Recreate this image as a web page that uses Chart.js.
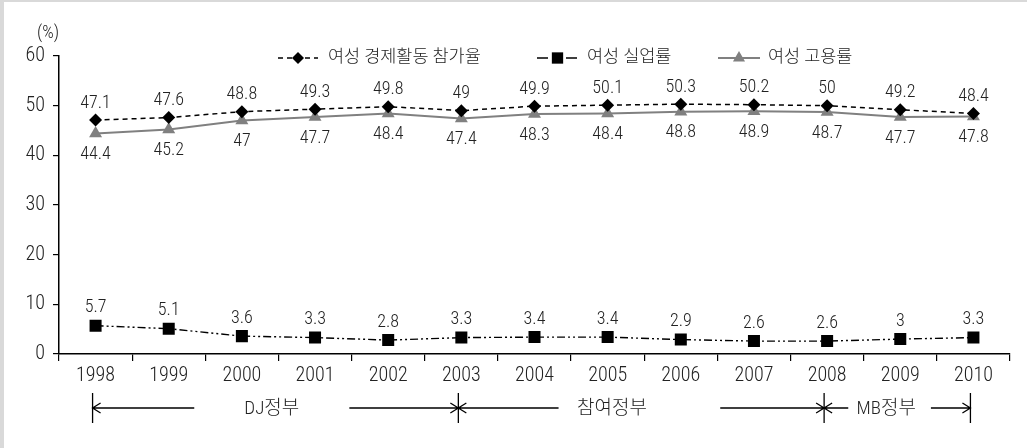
<!DOCTYPE html>
<html>
<head>
<meta charset="utf-8">
<script src="https://cdn.jsdelivr.net/npm/chart.js@4/dist/chart.umd.min.js"></script>
<style>
  html, body { margin: 0; padding: 0; background: #fff; }
  canvas { display: block; }
</style>
</head>
<body>
<canvas id="chart" width="1027" height="448"></canvas>
<script>
// Women's labour market indicators, 1998-2010 (%)
const years = ['1998', '1999', '2000', '2001', '2002', '2003', '2004', '2005', '2006', '2007', '2008', '2009', '2010'];
const participationRate = [47.1, 47.6, 48.8, 49.3, 49.8, 49, 49.9, 50.1, 50.3, 50.2, 50, 49.2, 48.4];
const unemploymentRate  = [5.7, 5.1, 3.6, 3.3, 2.8, 3.3, 3.4, 3.4, 2.9, 2.6, 2.6, 3, 3.3];
const employmentRate    = [44.4, 45.2, 47, 47.7, 48.4, 47.4, 48.3, 48.4, 48.8, 48.9, 48.7, 47.7, 47.8];
const yTicks = [0, 10, 20, 30, 40, 50, 60];
const seriesNames = ['여성 경제활동 참가율', '여성 실업률', '여성 고용률'];
const unitLabel = '(%)';

// Government terms, as first and last year index
const governments = ['DJ정부', '참여정부', 'MB정부'];
const governmentSpans = [[0, 5], [5, 10], [10, 12]];

const FONT = "'Roboto Condensed', 'Noto Sans CJK KR', sans-serif";
const TEXT = '#222';

// Layout of the term bar under the axis (in category index units)
const termLayout = [
  { lineEnd: 1.39, labelAt: 2.45, lineStart: 3.51 },
  { lineEnd: 6.37, labelAt: 7.1, lineStart: 8.58 },
  { lineEnd: 10.33, labelAt: 10.85, lineStart: 11.46 }
];

function drawMarker(ctx, style, x, y, r, color) {
  ctx.save();
  ctx.fillStyle = color;
  ctx.beginPath();
  if (style === 'rectRot') {
    ctx.moveTo(x, y - r); ctx.lineTo(x + r, y); ctx.lineTo(x, y + r); ctx.lineTo(x - r, y);
  } else if (style === 'rect') {
    const s = Math.SQRT1_2 * r;
    ctx.rect(x - s, y - s, 2 * s, 2 * s);
  } else if (style === 'triangle') {
    ctx.moveTo(x, y - r);
    ctx.lineTo(x + r * Math.sin(2 * Math.PI / 3), y - r * Math.cos(2 * Math.PI / 3));
    ctx.lineTo(x + r * Math.sin(4 * Math.PI / 3), y - r * Math.cos(4 * Math.PI / 3));
  }
  ctx.closePath();
  ctx.fill();
  ctx.restore();
}

const framePlugin = {
  id: 'frame',
  beforeDraw(chart) {
    const ctx = chart.ctx;
    ctx.save();
    ctx.fillStyle = '#fff';
    ctx.fillRect(0, 0, chart.width, chart.height);
    ctx.fillStyle = '#d9d9d9';
    ctx.fillRect(0, 0, 4, chart.height);
    ctx.fillRect(0, 0, chart.width, 2);
    ctx.restore();
  }
};

const valueLabelPlugin = {
  id: 'valueLabels',
  afterDatasetsDraw(chart) {
    const ctx = chart.ctx;
    ctx.save();
    ctx.font = '300 18px ' + FONT;
    ctx.fillStyle = TEXT;
    ctx.textAlign = 'center';
    ctx.textBaseline = 'middle';
    chart.data.datasets.forEach((ds, di) => {
      const meta = chart.getDatasetMeta(di);
      meta.data.forEach((pt, i) => {
        ctx.fillText(String(ds.data[i]), pt.x, pt.y + ds.labelOffset);
      });
    });
    ctx.restore();
  }
};

const legendPlugin = {
  id: 'lineLegend',
  afterDraw(chart) {
    const ctx = chart.ctx;
    const y = 58;
    const items = [
      { x: 278, len: 40, textX: 328 },
      { x: 537, len: 41, textX: 587 },
      { x: 718, len: 42, textX: 768 }
    ];
    ctx.save();
    chart.data.datasets.forEach((ds, i) => {
      const it = items[i];
      ctx.strokeStyle = ds.borderColor;
      ctx.lineWidth = ds.borderWidth;
      ctx.setLineDash(ds.legendDash || []);
      ctx.beginPath();
      ctx.moveTo(it.x, y);
      ctx.lineTo(it.x + it.len, y);
      ctx.stroke();
      ctx.setLineDash([]);
      drawMarker(ctx, ds.pointStyle, it.x + it.len / 2, y, ds.legendRadius, ds.pointBackgroundColor);
      ctx.font = '300 17.5px ' + FONT;
      ctx.fillStyle = TEXT;
      ctx.textAlign = 'left';
      ctx.textBaseline = 'middle';
      ctx.fillText(ds.label, it.textX, y);
    });
    ctx.font = '300 18px ' + FONT;
    ctx.textAlign = 'left';
    ctx.fillText(unitLabel, 37, 33);
    ctx.restore();
  }
};

const termPlugin = {
  id: 'terms',
  afterDraw(chart) {
    const ctx = chart.ctx;
    const xs = chart.scales.x;
    const px = v => xs.getPixelForValue(v) - 3;
    const y = 408, top = 393, bottom = 423, ah = 8, aw = 5;
    ctx.save();
    ctx.strokeStyle = '#000';
    ctx.lineWidth = 1.3;
    const bars = new Set();
    governmentSpans.forEach(s => { bars.add(s[0]); bars.add(s[1]); });
    bars.forEach(i => {
      ctx.beginPath();
      ctx.moveTo(px(i), top);
      ctx.lineTo(px(i), bottom);
      ctx.stroke();
    });
    ctx.font = '300 19px ' + FONT;
    ctx.fillStyle = TEXT;
    ctx.textAlign = 'center';
    ctx.textBaseline = 'middle';
    governmentSpans.forEach((s, k) => {
      const L = termLayout[k];
      const x0 = px(s[0]), x1 = px(s[1]);
      ctx.beginPath();
      ctx.moveTo(x0, y); ctx.lineTo(px(L.lineEnd), y);
      ctx.moveTo(px(L.lineStart), y); ctx.lineTo(x1, y);
      // open arrowheads at both ends
      ctx.moveTo(x0 + ah, y - aw); ctx.lineTo(x0, y); ctx.lineTo(x0 + ah, y + aw);
      ctx.moveTo(x1 - ah, y - aw); ctx.lineTo(x1, y); ctx.lineTo(x1 - ah, y + aw);
      ctx.stroke();
      ctx.fillText(governments[k], px(L.labelAt), y + 1);
    });
    ctx.restore();
  }
};

new Chart(document.getElementById('chart'), {
  type: 'line',
  data: {
    labels: years,
    datasets: [
      {
        label: seriesNames[0],
        data: participationRate,
        borderColor: '#000',
        borderWidth: 1.5,
        borderDash: [5, 4],
        legendDash: [5, 4],
        pointStyle: 'rectRot',
        pointRadius: 6.5,
        legendRadius: 6,
        pointBackgroundColor: '#000',
        pointBorderWidth: 0,
        labelOffset: -17
      },
      {
        label: seriesNames[1],
        data: unemploymentRate,
        borderColor: '#000',
        borderWidth: 1.4,
        borderDash: [8, 3, 2, 3, 2, 3],
        legendDash: [11, 18],
        pointStyle: 'rect',
        pointRadius: 8.5,
        legendRadius: 8,
        pointBackgroundColor: '#000',
        pointBorderWidth: 0,
        labelOffset: -18
      },
      {
        label: seriesNames[2],
        data: employmentRate,
        borderColor: '#808080',
        borderWidth: 2,
        pointStyle: 'triangle',
        pointRadius: 7.5,
        legendRadius: 7,
        pointBackgroundColor: '#808080',
        pointBorderWidth: 0,
        labelOffset: 21
      }
    ]
  },
  options: {
    responsive: false,
    animation: false,
    devicePixelRatio: 1,
    layout: { padding: { top: 56, right: 17, left: 0, bottom: 0 } },
    elements: { line: { tension: 0 } },
    plugins: { legend: { display: false }, tooltip: { enabled: false } },
    scales: {
      x: {
        offset: true,
        grid: { offset: true, drawOnChartArea: false, tickLength: 7, color: '#000', lineWidth: 1.2 },
        border: { color: '#000', width: 1.5 },
        ticks: { font: { family: FONT, size: 20, weight: '300' }, color: TEXT, padding: 3, maxRotation: 0, autoSkip: false },
        afterFit(s) { s.height = 94; }
      },
      y: {
        min: 0,
        max: 60,
        afterBuildTicks(s) { s.ticks = yTicks.map(v => ({ value: v })); },
        grid: { drawOnChartArea: false, tickLength: 6, color: '#000', lineWidth: 1.2 },
        border: { color: '#000', width: 1.5 },
        ticks: { font: { family: FONT, size: 20, weight: '300' }, color: TEXT, padding: 8 },
        afterFit(s) { s.width = 59; }
      }
    }
  },
  plugins: [framePlugin, valueLabelPlugin, legendPlugin, termPlugin]
});
</script>
</body>
</html>
